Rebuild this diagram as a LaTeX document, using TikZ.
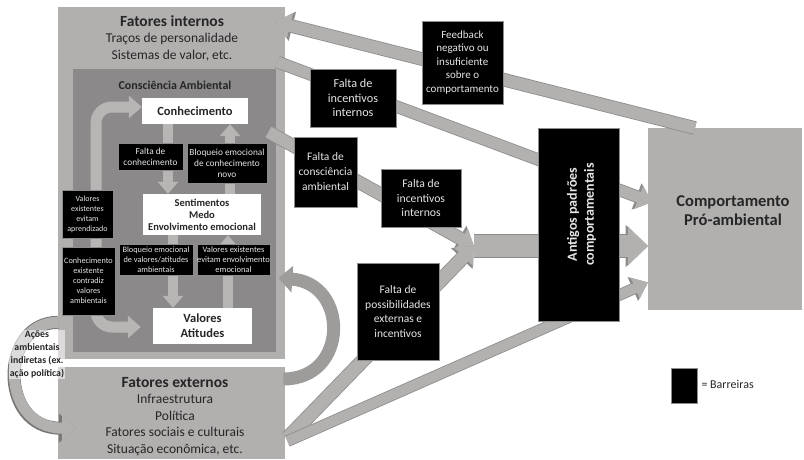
\documentclass[tikz,border=0pt]{standalone}
\usepackage{fontspec}
\setmainfont{Carlito}
\usetikzlibrary{arrows.meta,calc}

\definecolor{boxgray}{HTML}{B2AFAF}
\definecolor{cagray}{HTML}{8B8989}
\definecolor{bandgray}{HTML}{B3B0B0}
\definecolor{bandedge}{HTML}{8E8B8B}
\definecolor{darkedge}{HTML}{7A7777}
\definecolor{innergray}{HTML}{B8B5B5}
\definecolor{curvegray}{HTML}{9E9B9B}
\definecolor{bartext}{HTML}{E6E6E6}
\definecolor{textdark}{HTML}{262626}
\definecolor{bordergray}{HTML}{8C8C8C}

\newcommand{\fsz}[2]{\fontsize{#1}{#2}\selectfont}

\begin{document}
\begin{tikzpicture}[x=1pt,y=-1pt,
  panel/.style={fill=boxgray, inner sep=0pt, anchor=north west},
  awareness/.style={fill=cagray, inner sep=0pt, anchor=north west},
  whitebox/.style={fill=white, inner sep=0pt, text=textdark, align=center},
  barrier/.style={fill=black, draw=bordergray, line width=0.6pt, inner sep=0pt, text=bartext, align=center},
  label/.style={text=textdark, inner sep=0pt, align=center},
  % band: width, head width, head length, then the same three for its outline
  flow/.style n args={6}{
    preaction={draw=bandedge, line width=#4, -{Triangle[width=#5,length=#6]}},
    draw=bandgray, line width=#1, -{Triangle[width=#2,length=#3]}},
  loopflow/.style={draw=innergray, line width=11pt, rounded corners=16pt,
    {Triangle[width=22pt,length=13pt]}-{Triangle[width=22pt,length=13pt]}},
  innerflow/.style={draw=innergray, line width=10pt, -{Triangle[width=20pt,length=12pt]}},
]
\useasboundingbox (0,0) rectangle (804,459);

% ---- large panels ----
\node[panel, minimum width=227pt, minimum height=352pt] (fi) at (58,7) {};
\node[panel, minimum width=227pt, minimum height=92pt] (fe) at (58,367) {};
\node[panel, minimum width=154pt, minimum height=182pt] (cp) at (648,128) {};
\node[awareness, minimum width=203pt, minimum height=283pt] (ca) at (73,69) {};

% ---- white boxes inside the awareness panel ----
\node[whitebox, minimum width=106pt, minimum height=26pt, font=\fsz{12.5}{14}\bfseries] (kn) at (195,111) {Conhecimento};
\node[whitebox, minimum width=118pt, minimum height=41pt, font=\fsz{10.5}{12}\bfseries] (se) at (202,214.5) {Sentimentos\\Medo\\Envolvimento emocional};
\node[whitebox, minimum width=99pt, minimum height=36pt, font=\fsz{12.5}{15}\bfseries] (va) at (202.5,326) {Valores\\Atitudes};

\coordinate (mg) at (474,246);

% ---- main flows ----
\draw[flow={12pt}{26pt}{15pt}{13.6pt}{29pt}{17.5pt}] ($(cp.north west)+(47,0)$) -- ($(fi.north east)+(-10,15)$);
\draw[flow={11pt}{24pt}{14pt}{12.6pt}{27pt}{16.5pt}] ($(fi.north east)+(-8,55)$) -- ($(cp.west)+(4,-17)$);
\draw[flow={12pt}{24pt}{14pt}{13.6pt}{27pt}{16.5pt}] ($(ca.north east)+(-8,63)$) -- (mg);
\draw[flow={13pt}{26pt}{15pt}{14.6pt}{29pt}{17.5pt}] ($(fe.east)+(2,25)$) -- (mg);
\draw[flow={10pt}{22pt}{14pt}{11.6pt}{25pt}{16.5pt}] ($(fe.east)+(2,28)$) -- ($(cp.south west)+(0,-28)$);
\draw[flow={22pt}{38pt}{20pt}{23.6pt}{41pt}{22.5pt}] (mg) -- (cp.west |- mg);

% ---- curved flows ----
\draw[draw=curvegray, line width=13pt, -{Triangle[width=26pt,length=14pt]}]
  ($(fe.north east)+(-2,12)$) .. controls (349,379) and (349,283) .. ($(ca.east)+(2,67.5)$);
\draw[preaction={draw=darkedge, line width=13pt, -{Triangle[width=28pt,length=17pt]}},
      draw=bandgray, line width=11pt, -{Triangle[width=24pt,length=14pt]}]
  ($(fi.south west)+(0,-37)$) .. controls (0,322) and (-2,428) .. ($(fe.west)+(18,15)$);

% ---- flows inside the awareness panel ----
\draw[loopflow] ($(kn.west)+(0,-4)$) -- (96,107) -- (96,327) -- ($(va.west)+(-12,1)$);
\draw[innerflow] ($(kn.south)+(-27,0)$) -- ($(se.north)+(-34,0)$);
\draw[innerflow] ($(se.north)+(28,0)$) -- ($(kn.south)+(35,0)$);
\draw[innerflow] ($(se.south)+(-29,0)$) -- ($(va.north)+(-29.5,0)$);
\draw[innerflow] ($(va.north)+(25.5,0)$) -- ($(se.south)+(26,0)$);

% ---- panel titles ----
\node[label, font=\fsz{15.5}{17}\bfseries] (fit) at (172,21) {Fatores internos};
\node[label, font=\fsz{13.5}{15}] (fi1) at (172,39) {Traços de personalidade};
\node[label, font=\fsz{13.5}{15}] (fi2) at (172,56) {Sistemas de valor, etc.};
\node[label, font=\fsz{12}{13}\bfseries] (cat) at (175,85) {Consciência Ambiental};
\node[label, font=\fsz{15.5}{17}\bfseries] (fet) at (175,383) {Fatores externos};
\node[label, font=\fsz{13.5}{16.7}] (fe1) at (175,425) {Infraestrutura\\Política\\Fatores sociais e culturais\\Situação econômica, etc.};
\node[label, font=\fsz{16.5}{19}\bfseries] (cpt) at (733,211) {Comportamento\\Pró-ambiental};
\node[label, font=\fsz{9.8}{13}\bfseries, fill=white, fill opacity=0.55, text opacity=1, inner sep=1pt] (acoes) at (37,354.5) {Ações\\ambientais\\indiretas (ex.\\ação política)};

% ---- barriers inside the awareness panel ----
\node[barrier, minimum width=65pt, minimum height=27pt, font=\fsz{9.3}{11}] (fk) at (150.5,156.5) {Falta de\\conhecimento};
\node[barrier, minimum width=80pt, minimum height=40pt, font=\fsz{9.3}{11}] (bn) at (227,163) {Bloqueio emocional\\de conhecimento\\novo};
\node[barrier, minimum width=51pt, minimum height=48pt, font=\fsz{8}{10}] (ve1) at (87.5,214) {Valores\\existentes\\evitam\\aprendizado};
\node[barrier, minimum width=53pt, minimum height=68pt, font=\fsz{8.2}{10}] (ce) at (88.5,281) {Conhecimento\\existente\\contradiz\\valores\\ambientais};
\node[barrier, minimum width=74pt, minimum height=31pt, font=\fsz{8.3}{10}] (bv) at (156,259.5) {Bloqueio emocional\\de valores/atitudes\\ambientais};
\node[barrier, minimum width=73pt, minimum height=31pt, font=\fsz{8.5}{10}] (ve2) at (233.5,259.5) {Valores existentes\\evitam envolvimento\\emocional};

% ---- barriers on the flows ----
\node[barrier, minimum width=81pt, minimum height=83pt, font=\fsz{11}{13.5}] (fb) at (462.5,62.5) {Feedback\\negativo ou\\insuficiente\\sobre o\\comportamento};
\node[barrier, minimum width=86pt, minimum height=58pt, font=\fsz{12.2}{14.5}] (ii1) at (353,98) {Falta de\\incentivos\\internos};
\node[barrier, minimum width=63pt, minimum height=70pt, font=\fsz{11.5}{15}] (fc) at (325.5,172) {Falta de\\consciência\\ambiental};
\node[barrier, minimum width=80pt, minimum height=58pt, font=\fsz{11.7}{14.5}] (ii2) at (421,198) {Falta de\\incentivos\\internos};
\node[barrier, minimum width=82pt, minimum height=97pt, font=\fsz{11.5}{14.5}] (fp) at (398,311.5) {Falta de\\possibilidades\\externas e\\incentivos};
\node[barrier, minimum width=81pt, minimum height=193pt] (ap) at (578.5,224.5) {};
\node[label, text=bartext, rotate=90, font=\fsz{14}{17}\bfseries] (apt) at ($(ap.center)+(3,-10)$) {Antigos padrões\\comportamentais};

% ---- legend ----
\node[barrier, minimum width=26pt, minimum height=35pt] (lg) at (684,385.5) {};
\node[label, anchor=west, font=\fsz{12}{13}] (lgt) at ($(lg.east)+(4,-1)$) {= Barreiras};
\end{tikzpicture}
\end{document}
